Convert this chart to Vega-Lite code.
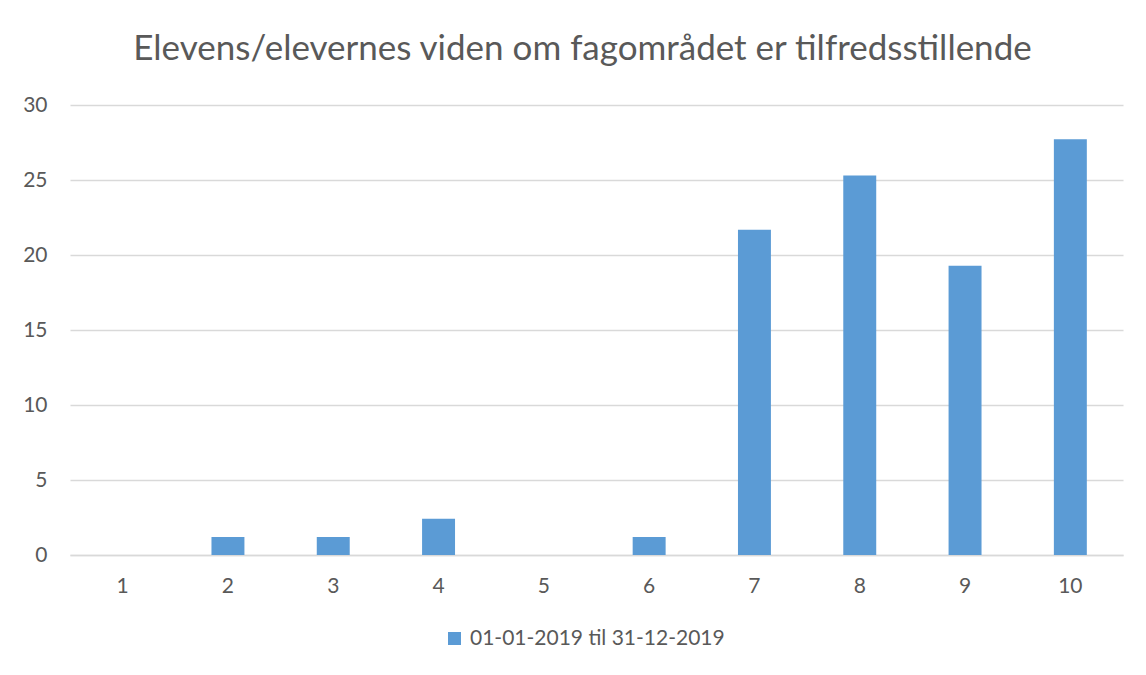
{
  "$schema": "https://vega.github.io/schema/vega-lite/v6.json",
  "width": 1053,
  "height": 450,
  "autosize": {"type": "none"},
  "padding": {"left": 70, "top": 105, "right": 23, "bottom": 120},
  "background": "white",
  "title": {
    "text": "Elevens/elevernes viden om fagområdet er tilfredsstillende",
    "font": "Lato",
    "fontSize": 35,
    "fontWeight": "normal",
    "color": "#595959",
    "anchor": "middle",
    "frame": "group",
    "dx": -14,
    "offset": -1,
    "baseline": "alphabetic"
  },
  "data": {
    "values": [
      {"kategori": "1", "procent": 0, "serie": "01-01-2019 til 31-12-2019"},
      {"kategori": "2", "procent": 1.2, "serie": "01-01-2019 til 31-12-2019"},
      {"kategori": "3", "procent": 1.2, "serie": "01-01-2019 til 31-12-2019"},
      {"kategori": "4", "procent": 2.41, "serie": "01-01-2019 til 31-12-2019"},
      {"kategori": "5", "procent": 0, "serie": "01-01-2019 til 31-12-2019"},
      {"kategori": "6", "procent": 1.2, "serie": "01-01-2019 til 31-12-2019"},
      {"kategori": "7", "procent": 21.69, "serie": "01-01-2019 til 31-12-2019"},
      {"kategori": "8", "procent": 25.3, "serie": "01-01-2019 til 31-12-2019"},
      {"kategori": "9", "procent": 19.28, "serie": "01-01-2019 til 31-12-2019"},
      {"kategori": "10", "procent": 27.71, "serie": "01-01-2019 til 31-12-2019"}
    ]
  },
  "mark": {"type": "bar"},
  "encoding": {
    "x": {
      "field": "kategori",
      "type": "ordinal",
      "sort": null,
      "scale": {"paddingInner": 0.687, "paddingOuter": 0.3435},
      "axis": {
        "title": null,
        "labelAngle": 0,
        "labelFont": "Lato",
        "labelFontSize": 21,
        "labelColor": "#595959",
        "ticks": false,
        "labelPadding": 20,
        "domainColor": "#d9d9d9",
        "domainWidth": 1.5,
        "grid": false
      }
    },
    "y": {
      "field": "procent",
      "type": "quantitative",
      "scale": {"domain": [0, 30]},
      "axis": {
        "title": null,
        "values": [0, 5, 10, 15, 20, 25, 30],
        "labelFont": "Lato",
        "labelFontSize": 21,
        "labelColor": "#595959",
        "ticks": false,
        "labelPadding": 23,
        "domain": false,
        "grid": true,
        "gridColor": "#d9d9d9",
        "gridWidth": 1.5
      }
    },
    "color": {
      "field": "serie",
      "type": "nominal",
      "scale": {"range": ["#5B9BD5"]},
      "legend": {
        "title": null,
        "orient": "none",
        "legendX": 374,
        "legendY": 523,
        "symbolType": "square",
        "symbolSize": 169,
        "symbolStrokeWidth": 0,
        "labelFont": "Lato",
        "labelFontSize": 21,
        "labelColor": "#595959",
        "labelOffset": 5,
        "labelLimit": 400
      }
    }
  },
  "config": {
    "view": {"stroke": null},
    "axis": {"labelFont": "Lato"}
  }
}
